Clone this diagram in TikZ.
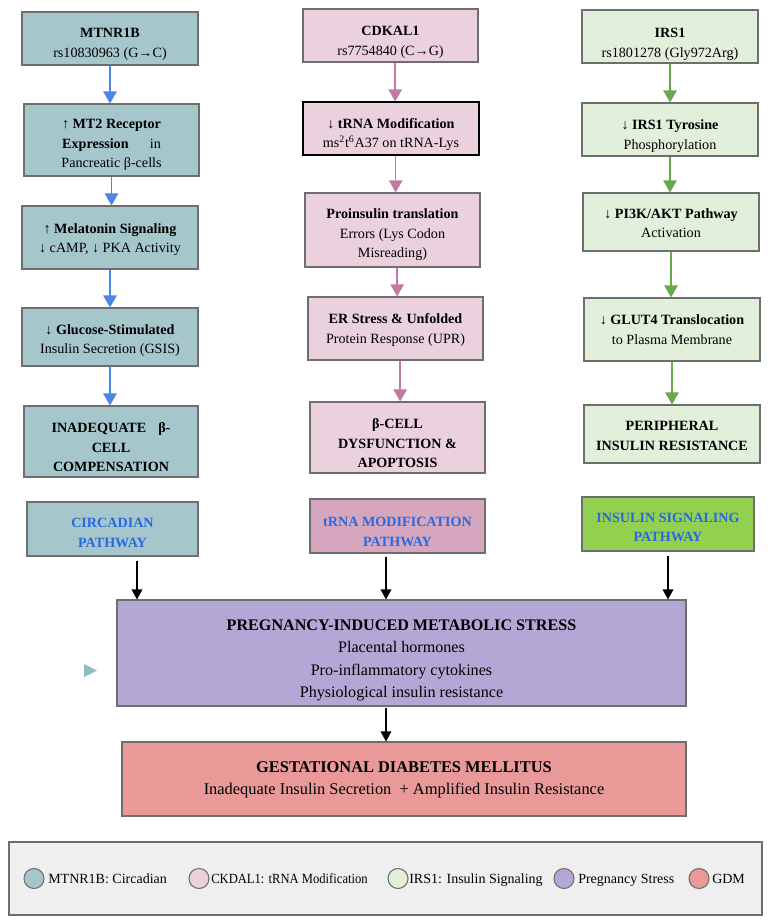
\documentclass[tikz,border=0pt]{standalone}
\usepackage{fontspec}
\setmainfont{Liberation Serif}
\usetikzlibrary{arrows.meta,calc}
\definecolor{tealc}{RGB}{165,199,203}
\definecolor{pinkc}{RGB}{235,208,222}
\definecolor{greenc}{RGB}{226,239,218}
\definecolor{pinklab}{RGB}{213,166,189}
\definecolor{greenlab}{RGB}{146,208,80}
\definecolor{purplec}{RGB}{180,167,214}
\definecolor{redc}{RGB}{234,153,153}
\definecolor{legbg}{RGB}{239,239,239}
\definecolor{bordc}{RGB}{110,110,110}
\definecolor{bluearr}{RGB}{74,134,232}
\definecolor{pinkarr}{RGB}{194,123,160}
\definecolor{greenarr}{RGB}{106,168,79}
\definecolor{labtext}{RGB}{40,105,225}
\definecolor{trianglec}{RGB}{143,190,194}
% \mkbox{name}{x1}{y1}{x2}{y2}{style}{text shift px}{text}
\newcommand\mkbox[8]{%
  \pgfmathsetmacro\mkbw{(#4-#2)*0.75}%
  \pgfmathsetmacro\mkbh{(#5-#3)*0.75}%
  \node[#6, minimum width=\mkbw pt, minimum height=\mkbh pt] (#1) at ({(#2+#4)/2},{(#3+#5)/2}) {};
  \node[#6, draw=none, fill=none] (#1-t) at ($(#1.center)+(0,#7)$) {#8};}
\begin{document}
\begin{tikzpicture}[x=0.75pt,y=-0.75pt,
  box/.style={draw=bordc, line width=0.8pt, inner sep=0pt, align=center,
    font=\fontsize{10.6}{14.6}\selectfont},
  cone/.style={box, fill=tealc},
  ctwo/.style={box, fill=pinkc},
  cthree/.style={box, fill=greenc},
  labbox/.style={box, text=labtext, font=\fontsize{10.6}{14.6}\selectfont\bfseries},
  flowarrow/.style={line width=1.1pt, -{Triangle[width=10pt,length=9pt]}},
  blackarrow/.style={line width=0.9pt, black, -{Triangle[width=8pt,length=7.5pt]}},
  legcirc/.style={circle, draw=bordc, line width=0.8pt, inner sep=0pt, minimum size=15pt},
  legtext/.style={anchor=base west, inner sep=0pt, font=\fontsize{10.5}{12}\selectfont}
]
\useasboundingbox (0,0) rectangle (773,923);

% column 1
\mkbox{a1}{22}{12}{198}{65}{cone}{6}{\textbf{MTNR1B}\\rs10830963 (G→C)}
\mkbox{a2}{24}{104}{199}{176}{cone}{5}{\textbf{↑ MT2 Receptor}\\\textbf{Expression}\hspace{1.5em}in\\Pancreatic β-cells}
\mkbox{a3}{22}{206}{198}{269}{cone}{2}{\textbf{↑ Melatonin Signaling}\\↓ cAMP, ↓ PKA Activity}
\mkbox{a4}{22}{308}{198}{366}{cone}{3.5}{\textbf{↓ Glucose-Stimulated}\\Insulin Secretion (GSIS)}
\mkbox{a5}{24}{406}{198}{477}{cone}{6}{\textbf{INADEQUATE\hspace{0.6em} β-}\\\textbf{CELL}\\\textbf{COMPENSATION}}
\mkbox{al}{27}{502}{198}{556}{labbox,fill=tealc}{4}{CIRCADIAN\\PATHWAY}

% column 2
\mkbox{b1}{303}{9}{478}{62}{ctwo}{7}{\textbf{CDKAL1}\\rs7754840 (C→G)}
\mkbox{b2}{303}{102}{479}{155}{ctwo,draw=black}{6}{\textbf{↓ tRNA Modification}\\ms\textsuperscript{2}t\textsuperscript{6}A37 on tRNA-Lys}
\mkbox{b3}{305}{193}{480}{267}{ctwo}{5}{\textbf{Proinsulin translation}\\Errors (Lys Codon\\Misreading)}
\mkbox{b4}{308}{297}{483}{360}{ctwo}{1.5}{\textbf{ER Stress \& Unfolded}\\Protein Response (UPR)}
\mkbox{b5}{310}{402}{485}{473}{ctwo}{6}{\textbf{β-CELL}\\\textbf{DYSFUNCTION \&}\\\textbf{APOPTOSIS}}
\mkbox{bl}{310}{499}{485}{553}{labbox,fill=pinklab}{6}{tRNA MODIFICATION\\PATHWAY}

% column 3
\mkbox{c1}{582}{10}{758}{63}{cthree}{8}{\textbf{IRS1}\\rs1801278 (Gly972Arg)}
\mkbox{c2}{582}{103}{758}{156}{cthree}{6.5}{\textbf{↓ IRS1 Tyrosine}\\Phosphorylation}
\mkbox{c3}{583}{193}{759}{251}{cthree}{1}{\textbf{↓ PI3K/AKT Pathway}\\Activation}
\mkbox{c4}{584}{298}{760}{361}{cthree}{0}{\textbf{↓ GLUT4 Translocation}\\to Plasma Membrane}
\mkbox{c5}{584}{405}{760}{463}{cthree}{2}{\textbf{PERIPHERAL}\\\textbf{INSULIN RESISTANCE}}
\mkbox{cl}{582}{497}{754}{551}{labbox,fill=greenlab}{3.5}{INSULIN SIGNALING\\PATHWAY}

% bottom boxes
\mkbox{preg}{117}{600}{686}{706}{box,fill=purplec,font=\fontsize{12.1}{16.8}\selectfont}{7.5}{\textbf{PREGNANCY-INDUCED METABOLIC STRESS}\\Placental hormones\\Pro-inflammatory cytokines\\Physiological insulin resistance}
\mkbox{gdm}{122}{742}{686}{816}{box,fill=redc,font=\fontsize{12.3}{16.5}\selectfont}{1}{\textbf{GESTATIONAL DIABETES MELLITUS}\\Inadequate Insulin Secretion\ \ + Amplified Insulin Resistance}

% small triangle
\fill[trianglec] (84,664) -- (97,670.5) -- (84,677) -- cycle;

% colored arrows
\foreach \s/\t in {a1/a2,a2/a3,a3/a4,a4/a5}
  \draw[flowarrow, bluearr] (\s.south) -- (\s.south |- \t.north);
\foreach \s/\t in {b1/b2,b2/b3,b3/b4,b4/b5}
  \draw[flowarrow, pinkarr] ([xshift=3.5pt]\s.south) -- ([xshift=3.5pt]\s.south |- \t.north);
\foreach \s/\t in {c1/c2,c2/c3,c3/c4,c4/c5}
  \draw[flowarrow, greenarr] (\s.south) -- (\s.south |- \t.north);

% black arrows
\coordinate (k1) at ($(al.south)+(24.5,4)$);
\coordinate (k2) at ($(bl.south)+(-11.5,3)$);
\coordinate (k3) at ($(cl.south)+(0,4)$);
\draw[blackarrow] (k1) -- (k1 |- preg.north);
\draw[blackarrow] (k2) -- (k2 |- preg.north);
\draw[blackarrow] (k3) -- (k3 |- preg.north);
\coordinate (k4) at ($(preg.south)+(-15.5,1)$);
\draw[blackarrow] (k4) -- (k4 |- gdm.north);

% legend
\mkbox{leg}{9}{842}{762}{915}{box,fill=legbg}{0}{}
\node[legcirc, fill=tealc] (l1) at (34,878.5) {};
\node[legtext] (t1) at (48,883) {MTNR1B: Circadian};
\node[legcirc, fill=pinkc] (l2) at (199,878.5) {};
\node[legtext] (t2) at (211,883) {\scalebox{0.9}[1]{CKDAL1: tRNA Modification}};
\node[legcirc, fill=greenc] (l3) at (398,878.5) {};
\node[legtext] (t3) at (409,883) {IRS1: Insulin Signaling};
\node[legcirc, fill=purplec] (l4) at (564,878.5) {};
\node[legtext] (t4) at (578,883) {Pregnancy Stress};
\node[legcirc, fill=redc] (l5) at (699,878.5) {};
\node[legtext] (t5) at (712,883) {GDM};
\end{tikzpicture}
\end{document}
